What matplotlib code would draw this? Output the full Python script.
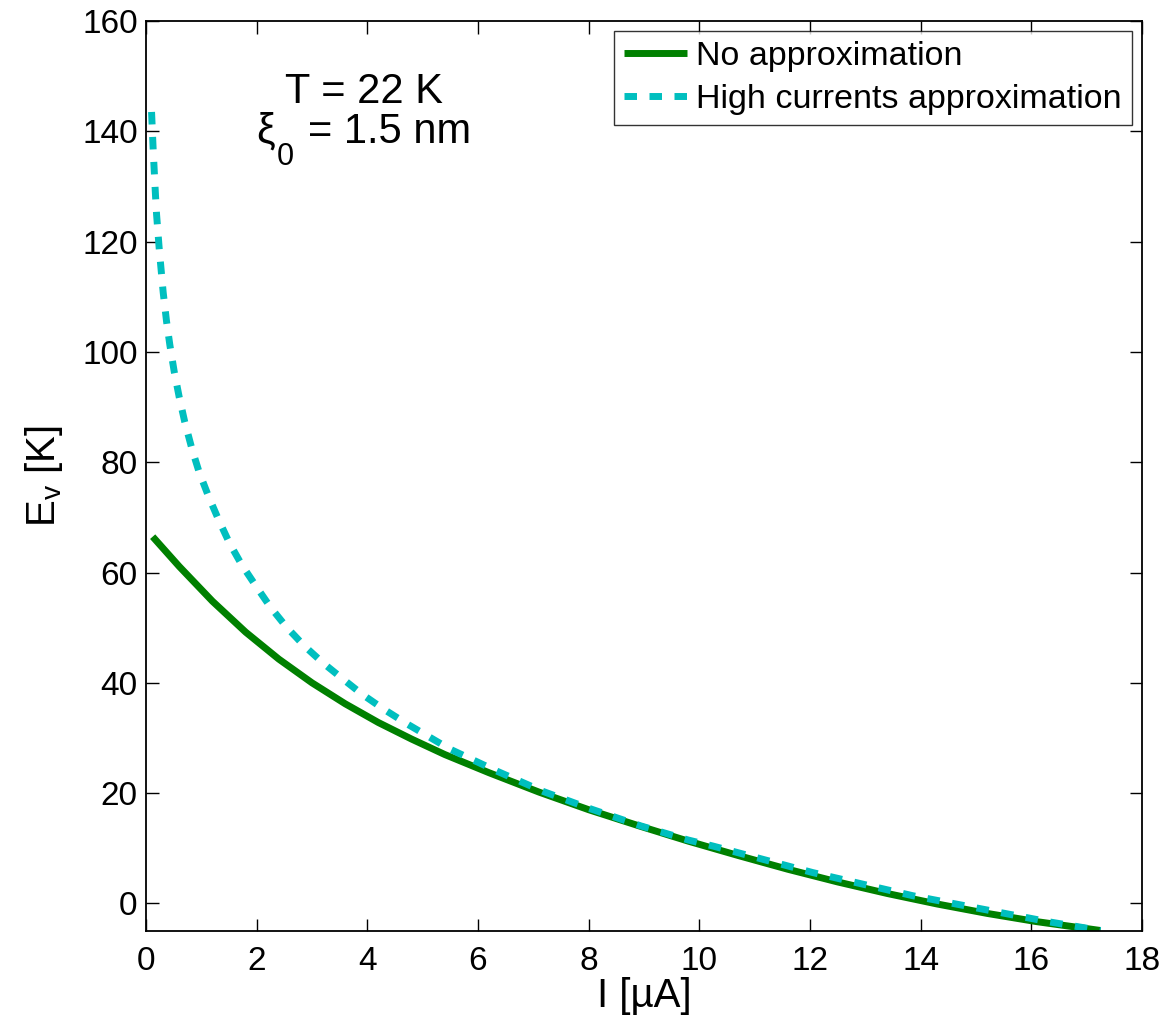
import matplotlib
matplotlib.use("Agg")
import matplotlib.pyplot as plt

plt.rcParams['font.family'] = ['Liberation Sans', 'DejaVu Sans']
plt.rcParams['mathtext.fontset'] = 'custom'
plt.rcParams['mathtext.rm'] = 'Liberation Sans'
plt.rcParams['mathtext.it'] = 'Liberation Sans'

I_exact = [0.12, 0.6, 1.2, 1.8, 2.4, 3.0, 3.6, 4.2, 4.8, 5.4, 6.2, 7.1, 8.0, 8.9,
           9.8, 10.7, 11.6, 12.5, 13.4, 14.3, 15.2, 16.1, 17.25]
E_exact = [66.5, 61.1, 54.8, 49.2, 44.3, 40.0, 36.2, 32.8, 29.8, 27.0, 23.7, 20.2,
           17.0, 14.1, 11.3, 8.7, 6.2, 3.9, 1.8, -0.1, -1.8, -3.3, -4.9]

I_approx = [0.1, 0.13, 0.17, 0.19, 0.24, 0.31, 0.37, 0.43, 0.51, 0.60, 0.70, 0.83,
            0.96, 1.13, 1.31, 1.51, 1.73, 1.99, 2.25, 2.54, 2.86, 3.20, 3.57, 3.91,
            4.30, 4.71, 5.10, 5.49, 6.34, 7.18, 8.05, 8.93, 9.80, 10.25, 12.05,
            13.86, 15.21, 16.3, 17.25]
E_approx = [143.5, 136.5, 128.6, 125.0, 118.5, 110.8, 105.6, 101.3, 96.4, 91.8, 87.3,
            82.4, 78.2, 73.8, 69.6, 65.3, 61.4, 57.5, 53.7, 50.1, 46.7, 43.6, 40.6,
            37.9, 35.2, 32.6, 30.3, 28.0, 24.0, 20.3, 17.1, 14.1, 11.5, 10.4, 5.6,
            1.4, -1.2, -3.3, -4.9]

x_ticks = list(range(0, 19, 2))
y_ticks = list(range(0, 161, 20))

fig = plt.figure(figsize=(11.71, 10.22), dpi=100)
ax = fig.add_axes([0.1247, 0.089, 0.8505, 0.8905])

ax.plot(I_exact, E_exact, color='#008000', linewidth=5, label='No approximation',
        solid_capstyle='butt', solid_joinstyle='round')
ax.plot(I_approx, E_approx, color='#00BFBF', linewidth=5, linestyle=(0, (1.8, 1.8)),
        label='High currents approximation', dash_capstyle='butt')

ax.set_xlim(0, 18)
ax.set_ylim(-5, 160)
ax.set_xticks(x_ticks)
ax.set_yticks(y_ticks)
ax.tick_params(direction='in', length=9, width=1, top=True, right=True,
               labelsize=24)
ax.tick_params(axis='y', pad=6)
ax.tick_params(axis='x', pad=11)
for s in ax.spines.values():
    s.set_linewidth(1.3)

ax.set_xlabel('I [µA]', fontsize=29, labelpad=0)
ax.set_ylabel(r'E$_\mathrm{v}$ [K]', fontsize=29, labelpad=12)

ax.text(3.93, 145.1, 'T = 22 K', fontsize=30, ha='center', va='baseline')
ax.text(1.99, 137.9, 'ξ', fontsize=30, ha='left', va='baseline')
ax.text(2.37, 133.8, '0', fontsize=22, ha='left', va='baseline')
ax.text(2.93, 137.9, '= 1.5 nm', fontsize=30, ha='left', va='baseline')

leg = ax.legend(loc='upper right', fontsize=24.5, frameon=True, fancybox=False,
                edgecolor='black', handlelength=1.85, handletextpad=0.25,
                borderpad=0.3, labelspacing=0.33, borderaxespad=0.3)
leg.get_frame().set_linewidth(1.0)

fig.savefig('out.png', dpi=100)
